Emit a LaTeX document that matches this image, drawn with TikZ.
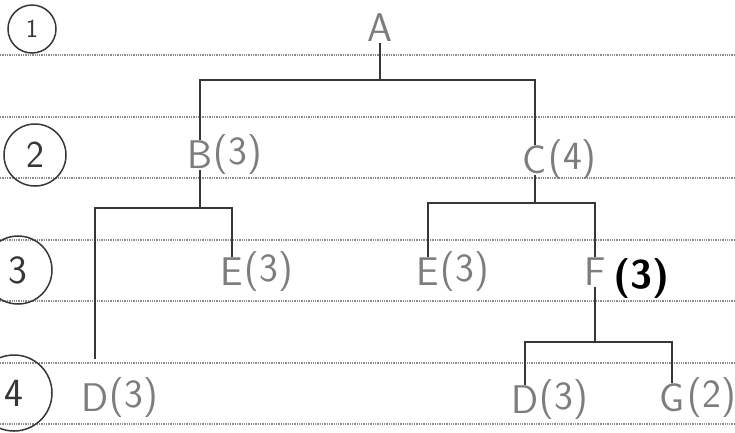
\documentclass[tikz,border=0pt]{standalone}
\usetikzlibrary{positioning}
\definecolor{ink}{RGB}{55,55,55}
\definecolor{pencil}{RGB}{125,125,125}
\definecolor{ruling}{RGB}{140,140,140}

\begin{document}
\begin{tikzpicture}[x=1pt, y=-1pt,
      ruleline/.style={draw=ruling, line width=1.3pt, densely dotted},
      lbl/.style={inner sep=1pt, text=pencil,
                  font=\fontsize{40}{40}\selectfont\sffamily},
      cnt/.style={lbl, inner sep=0pt},
      rowno/.style={circle, draw=ink, line width=1.5pt, inner sep=0pt, text=ink},
      br/.style={draw=ink, line width=1.6pt}]

    \useasboundingbox (0,0) rectangle (735,432);

    % ruled paper
    \foreach \y in {55,117,178,240,301,363,424}
      \draw[ruleline] (0,\y) -- (735,\y);

    % level numbers
    \node[rowno, minimum size=48pt, font=\fontsize{26}{26}\selectfont\sffamily]
      (r1) at (32,29)  {1};
    \node[rowno, minimum size=62pt, font=\fontsize{38}{38}\selectfont\sffamily]
      (r2) at (35,155) {2};
    \node[rowno, minimum size=68pt, font=\fontsize{40}{40}\selectfont\sffamily]
      (r3) at (18,270) {3};
    \node[rowno, minimum size=76pt, font=\fontsize{40}{40}\selectfont\sffamily]
      (r4) at (14,393) {4};

    % nodes
    \node[lbl] (a)  at (380,28)  {A};
    \node[lbl] (b)  at (200,155) {B};
    \node[cnt, right=0pt of b] (b3) {(3)};
    \node[lbl] (c)  at (535,160) {C};
    \node[cnt, right=0pt of c] (c4) {(4)};
    \node[lbl] (e1) at (232,272) {E};
    \node[cnt, right=0pt of e1] (e13) {(3)};
    \node[lbl] (e2) at (428,272) {E};
    \node[cnt, right=0pt of e2] (e23) {(3)};
    \node[lbl] (f)  at (595,272) {F};
    \node[cnt, right=6pt of f, yshift=-6pt, text=black,
          font=\fontsize{40}{40}\selectfont\sffamily\bfseries] (f3) {(3)};
    \node[lbl] (d1) at (95,398)  {D};
    \node[cnt, right=0pt of d1] (d13) {(3)};
    \node[lbl] (d2) at (525,400) {D};
    \node[cnt, right=0pt of d2] (d23) {(3)};
    \node[lbl] (g)  at (672,398) {G};
    \node[cnt, right=2pt of g] (g2) {(2)};

    % branch points, straight under each parent
    \coordinate (ja) at (380,80);
    \coordinate (jb) at (200,208);
    \coordinate (jc) at (535,203);
    \coordinate (jf) at (595,342);

    \draw[br] (a.south) -- (ja);
    \draw[br] (ja) -| (b.north);
    \draw[br] (ja) -| (c.north);

    \draw[br] (b.south) -- (jb);
    \draw[br, shorten >=24pt] (jb) -| (d1.north);
    \draw[br] (jb) -| (e1.north);

    \draw[br] (c.south) -- (jc);
    \draw[br] (jc) -| (e2.north);
    \draw[br] (jc) -| (f.north);

    \draw[br] (f.south) -- (jf);
    \draw[br] (jf) -| (d2.north);
    \draw[br] (jf) -| (g.north);
  \end{tikzpicture}
\end{document}
